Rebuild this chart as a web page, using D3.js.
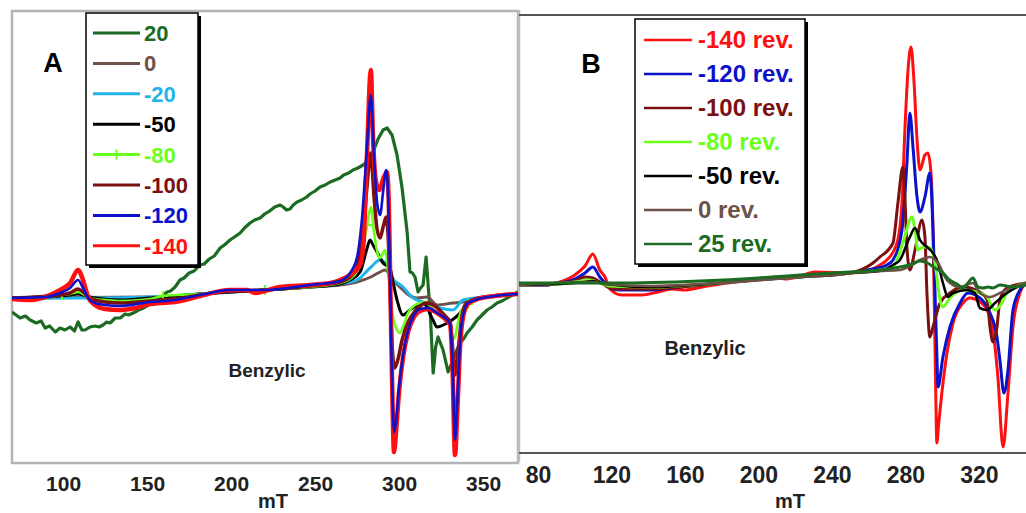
<!DOCTYPE html>
<html><head><meta charset="utf-8">
<script src="https://cdn.jsdelivr.net/npm/d3@7"></script>
<style>
body{margin:0;background:#fff;}
svg{display:block;font-family:"Liberation Sans",Arial,sans-serif;}
</style></head>
<body><svg id="c" width="1026" height="513"></svg>
<script>
// ---------- DATA (field in mT, intensity in arb. units) ----------
const ticksA = [100,150,200,250,300,350];
const ticksB = [80,120,160,200,240,280,320];
const labelsA = ["20","0","-20","-50","-80","-100","-120","-140"];
const labelsB = ["-140 rev.","-120 rev.","-100 rev.","-80 rev.","-50 rev.","0 rev.","25 rev."];

const A_p20 = [[69.6,-15],[72,-18],[74.4,-21],[77.6,-19],[80.4,-23],[84,-26],[87,-24],[89.3,-31],[92,-29],[95.4,-35],[98.2,-31],[101.2,-33],[104.2,-30],[106.8,-34],[108.9,-25],[111.2,-33],[113.1,-33],[116,-30],[119,-29],[121.5,-30],[123.8,-28],[126,-25],[128,-26],[131,-21],[134,-21],[137,-17],[139,-18],[141.7,-16],[145,-13],[148,-11],[151.8,-7],[155,-3],[158,-1],[161.9,5],[164,6],[166.7,10],[169.6,17],[172,19],[175,24],[178,26],[181.5,32],[184,33],[187,38],[190,41],[193.5,49],[196,52],[199.4,57],[202,60],[205.4,64],[208,69],[211.3,74],[214,77],[217.3,79],[220,83],[223,86],[226,90],[229.2,92],[231,90],[233,87],[235.1,88],[237,92],[239.3,95],[242,97],[245,100],[247,103],[250,106],[253,110],[256,112],[259,115],[262,117],[264.9,119],[267,122],[270,124],[272.6,127],[275.5,129],[278.6,132],[281.5,136],[284.5,145],[287.5,158],[290.5,167],[292.9,169],[295.8,162],[298.8,142],[301.8,109],[304.8,65],[306.5,25],[308,24],[309.5,20],[311.3,5],[312.8,9],[314.3,12],[316.1,40],[317.3,12],[318.7,-20],[320.3,-76],[321.8,-50],[323.2,-40],[326.2,-53],[329.2,-75],[332.1,-63],[334.2,-54],[336.3,-46],[338.4,-42],[340.5,-36],[343.5,-30],[346.4,-23],[349.4,-18],[352.4,-13],[355.3,-10],[358.3,-6],[361.3,-4],[364.3,-1],[367.5,2],[370.8,5]];
const A_0 = [[69.6,-1],[151.8,0],[181.5,3],[220.2,7],[247,10],[264.9,12],[276.8,16],[283.2,20],[288.7,25],[291.7,27],[294.6,22],[297.6,15],[302.4,7],[305,3],[310.7,-1],[316.7,0],[322.6,-8],[332.1,-6],[338.1,-5],[343,-3],[352,0],[370.8,3]];
const A_m20 = [[69.6,-1],[119,-1],[151.8,0],[181.5,3],[220.2,7],[247,10],[264.9,13],[275,17],[282.7,29],[288.7,37],[292.9,32],[295.5,20],[302.4,10],[308.3,-1],[316.7,-6],[324.4,-11],[332.1,-13],[338.1,-3],[345,-1],[357.1,1],[370.8,3]];
const A_m50 = [[69.6,-1],[98.2,1],[104.2,2],[108.9,3],[111.9,2],[119,-1],[134,-3],[151.8,-1],[181.5,3],[220.2,7],[247,10],[264.9,13],[270.8,17],[276.8,25],[281,49],[282.7,57],[284.5,52],[286.9,45],[290.5,34],[294.6,29],[296.4,15],[298.8,-3],[302.4,-18],[306.5,-13],[314.3,-6],[320.2,-23],[322.6,-30],[328.6,-26],[336.3,-16],[340.5,-6],[346,-2],[357.1,1],[370.8,3]];
const A_m80 = [[69.6,-1],[89.3,0],[99.4,2],[104.2,3],[108.9,5],[111.9,3],[114.9,0],[119,-2],[125,-3],[134,-4],[151.8,-2],[159.5,1],[181.5,3],[199.4,6],[220.2,7],[247,10],[264.9,14],[270.8,18],[275,26],[278,45],[281,72],[283.2,90],[285.1,65],[287.5,42],[288.7,39],[290.5,44],[291.7,47],[292.9,35],[294.6,5],[296.4,-20],[298.8,-33],[300.6,-36],[302.4,-30],[304.8,-18],[306.5,-13],[309.5,-8],[312.5,-6],[315.5,-5],[318.5,-8],[321.4,-14],[324.4,-15],[327.4,-18],[330.4,-30],[332.1,-42],[333.3,-40],[335.1,-25],[337.5,-12],[341.1,-7],[345.2,-3],[357.1,1],[370.8,3]];
const A_m80_marks = [99.4,159.5,220.2,281,341.1];
const A_m100 = [[69.6,-1],[98.2,2],[104.2,4],[108.9,8],[111.9,5],[114.9,0],[119,-3],[125,-5],[134,-6],[151.8,-4],[166.7,-2],[181.5,2],[199.4,6],[220.2,7],[247,11],[264.9,15],[270.8,20],[275,30],[278,55],[280.9,110],[283.2,144],[285.1,100],[286.9,68],[288.7,59],[290.5,70],[292.3,80],[293.5,60],[294.6,10],[295.8,-45],[297.3,-71],[299.4,-62],[301.8,-43],[305.4,-25],[309.5,-14],[312.5,-9],[316.1,-6],[321.4,-9],[327.4,-19],[330.4,-25],[332.1,-55],[333.3,-78],[335.1,-55],[336.9,-25],[339.3,-8],[345.2,-2],[357.1,1],[370.8,3]];
const A_m120 = [[69.6,-1],[89.3,0],[98.2,4],[104.2,9],[108.9,17],[111.9,9],[114.9,-1],[119,-6],[125,-8],[134,-9],[151.8,-5],[166.7,-3],[181.5,2],[199.4,7],[220.2,7],[247,12],[264.9,16],[270.8,24],[275,40],[278,80],[280.9,150],[283.2,202],[285.1,140],[286.9,95],[288.7,82],[290.5,105],[292.3,127],[293.5,100],[294.6,20],[295.8,-80],[297,-135],[298.2,-125],[300,-90],[302.4,-58],[305.4,-33],[308.9,-18],[312.5,-12],[317.3,-11],[322.6,-16],[327.4,-21],[330.4,-27],[331.8,-65],[333.3,-143],[334.8,-100],[336.3,-45],[338.1,-18],[341.1,-6],[347,-2],[357.1,1],[370.8,3]];
const A_m140 = [[69.6,-2],[80.4,-3],[89.3,0],[98.2,7],[104.2,14],[108.9,27],[111.9,17],[114.9,0],[119,-8],[125,-12],[134,-13],[142.9,-11],[151.8,-7],[157.7,-6],[166.7,-5],[181.5,1],[199.4,7],[209.5,7],[214.3,4],[220.2,6],[229.2,10],[247,12],[259,14],[264.9,17],[270.8,22],[276.8,32],[278.9,55],[280.9,142],[283.2,227],[284.5,159],[286.3,115],[288.3,107],[290.5,118],[292.7,125],[293.8,100],[294.6,30],[295.8,-80],[297,-155],[298.2,-135],[300,-95],[302.4,-60],[305.4,-35],[308.9,-20],[312.5,-14],[317.3,-12],[322.6,-16],[327.4,-22],[330.4,-28],[331.8,-70],[333.3,-158],[334.8,-110],[336.3,-50],[338.1,-20],[341.1,-7],[347,-2],[357.1,1],[370.8,3]];

const B_m140 = [[69.7,0],[83.8,0],[92,3],[100.1,10],[105.6,19],[109.9,31],[113.7,15],[116.5,8],[119.2,-4],[125.7,-10],[136.6,-10],[145.3,-7],[152.9,-4],[160,-5],[169.3,-2],[183.4,2],[198.1,6],[210.6,8],[214.4,6],[221.5,8],[230.7,13],[249.8,12],[260.7,15],[266.1,20],[269.9,25],[275.4,42],[278.1,82],[279.7,155],[281.4,215],[283,238],[284.6,205],[286.3,145],[287.9,115],[290.6,130],[292.2,132],[293.9,112],[295,55],[295.8,-30],[296.5,-110],[297.1,-158],[298,-140],[299.8,-108],[302.6,-68],[305.9,-38],[311.3,-18],[315.1,-13],[320.5,-17],[324.4,-25],[327.6,-45],[330.3,-92],[333.1,-162],[335.8,-108],[338.5,-42],[342.3,-8],[345.6,2]];
const B_m120 = [[69.7,0],[83.8,0],[92,2],[100.1,6],[105.6,12],[109.9,18],[113.7,8],[116.5,2],[119.2,-3],[124.6,-5],[141,-5],[157.3,-2],[179,2],[198.1,5],[222.6,8],[249.8,12],[262.3,16],[269.9,20],[273.2,25],[278.1,55],[280.8,122],[282.4,172],[284.1,138],[286.3,88],[287.9,73],[290.6,88],[293.3,112],[295,55],[296.1,-8],[297.1,-70],[297.7,-102],[300.4,-72],[304.2,-42],[309.7,-18],[314,-8],[320.5,-13],[326,-28],[329.8,-52],[331.4,-75],[333.6,-108],[335.8,-85],[338.5,-25],[342.3,-5],[345.6,2]];
const B_m100 = [[69.7,0],[92,2],[100.1,4],[105.6,8],[109.9,7],[113.7,3],[119.2,-3],[124.6,-4],[141,-4],[157.3,-2],[179,2],[198.1,5],[222.6,8],[249.8,12],[262.3,22],[266.1,28],[273.2,42],[275.9,82],[278.6,118],[279.7,88],[280.8,38],[282.4,15],[285.2,35],[289,65],[290.6,48],[291.7,-8],[293.3,-52],[295,-42],[298.8,-18],[304.2,-8],[311.3,-2],[320.5,-7],[324.4,-15],[326,-42],[327.6,-57],[329.8,-42],[331.4,-15],[335.2,-3],[345.6,2]];
const B_m80 = [[69.7,0],[92,1],[100.1,3],[108.3,5],[113.7,2],[119.2,-1],[141,-2],[179,2],[198.1,5],[222.6,8],[249.8,12],[262.3,14],[269.9,16],[273.2,18],[278.6,42],[283.5,68],[285.2,55],[286.8,35],[288.5,37],[290.6,38],[293.3,37],[296.1,22],[297.1,8],[298.8,-15],[300.4,-22],[304.2,-13],[311.3,-5],[318.9,-7],[324.4,-12],[328.7,-25],[332.5,-18],[335.2,-8],[345.6,2]];
const B_m50 = [[69.7,0],[92,1],[105.6,3],[109.9,4],[116.5,1],[141,-2],[179,2],[198.1,5],[222.6,8],[249.8,12],[266.1,14],[273.2,20],[277,25],[282.4,48],[285.2,57],[287.9,45],[291.7,38],[295,32],[297.7,22],[300.4,2],[303.1,-12],[305.9,-8],[313.5,-5],[317.8,-8],[320.5,-23],[324.4,-25],[328.7,-18],[335.2,-8],[345.6,2]];
const B_0 = [[69.7,0],[105.6,3],[109.9,3],[116.5,1],[141,-1],[179,2],[222.6,8],[249.8,12],[266.1,14],[277,15],[287.9,25],[293.3,28],[297.7,22],[302.6,5],[309.7,-2],[316.7,2],[320.5,-8],[326,-12],[331.4,-8],[338.5,-2],[345.6,2]];
const B_p25 = [[69.7,2],[120,2],[168.2,4],[200,7],[222.6,10],[249.8,13],[266.1,15],[277,18],[284,21],[287.9,24],[292,22],[296,17],[300.4,12],[304,5],[308,1],[311.3,-3],[314,2],[316.7,7],[319.5,-2],[322.2,-3],[324.9,-2],[327.6,-3],[331.4,0],[338.5,-2],[345.6,0]];

// ---------- DRAWING ----------
const svg = d3.select("#c");
const C = {g:"#1c6b22", br:"#6e5148", sky:"#1fb4ea", k:"#000000", lime:"#6cff1c", dr:"#7a1010", b:"#0c12cc", r:"#ff1010"};

function panel(opt){
  const x = d3.scaleLinear().domain(opt.xd).range(opt.xr);
  const y = d3.scaleLinear().domain(opt.yd).range(opt.yr);
  const g = svg.append("g");
  const cid = "clip"+opt.id;
  svg.append("defs").append("clipPath").attr("id",cid).append("rect")
    .attr("x",opt.xr[0]).attr("y",opt.yr[1]).attr("width",opt.xr[1]-opt.xr[0]).attr("height",opt.yr[0]-opt.yr[1]);
  const plot = g.append("g").attr("clip-path","url(#"+cid+")");
  opt.series.forEach(s=>{
    const line = d3.line().x(d=>x(d[0])).y(d=>y(d[1])).curve(s.curve||d3.curveMonotoneX);
    plot.append("path").datum(s.data).attr("d",line).attr("fill","none")
      .attr("stroke",s.color).attr("stroke-width",s.w).attr("stroke-linejoin","round");
    if(s.marks){
      s.marks.forEach(mx=>{
        const p = s.data.find(d=>d[0]===mx);
        const px=x(p[0]), py=y(p[1]);
        plot.append("path").attr("d",`M${px-5},${py}H${px+5}M${px},${py-5}V${py+5}`)
          .attr("stroke",s.color).attr("stroke-width",2);
      });
    }
  });
  const ax = g.append("g").attr("transform",`translate(0,${opt.axisY})`)
    .call(d3.axisBottom(x).tickValues(opt.ticks).tickSize(0).tickPadding(0).tickFormat(d3.format("d")));
  ax.select(".domain").remove();
  ax.selectAll("text").attr("font-size",opt.tfs).attr("font-weight","bold").attr("fill","#222")
    .attr("font-family","Liberation Sans, Arial, sans-serif").attr("dy",0);
  g.append("text").attr("x",opt.mt[0]).attr("y",opt.mt[1]).attr("text-anchor","middle")
    .attr("font-size",20).attr("font-weight","bold").attr("fill","#222").text("mT");
  g.append("text").attr("x",opt.letter[0]).attr("y",opt.letter[1]).attr("text-anchor","middle")
    .attr("font-size",27).attr("font-weight","bold").attr("fill","#000").text(opt.id);
  g.append("text").attr("x",opt.benz[0]).attr("y",opt.benz[1]).attr("text-anchor","middle")
    .attr("font-size",opt.bfs).attr("font-weight","bold").attr("fill","#222").text("Benzylic");
  return {x,y,g};
}

// Frames
svg.append("rect").attr("x",12).attr("y",11).attr("width",506).attr("height",452)
  .attr("fill","none").attr("stroke","#b4b4b4").attr("stroke-width",2.5);
svg.append("line").attr("x1",519).attr("x2",519).attr("y1",10).attr("y2",462).attr("stroke","#bdbdbd").attr("stroke-width",2.5);
svg.append("line").attr("x1",519).attr("x2",1026).attr("y1",15).attr("y2",15).attr("stroke","#555").attr("stroke-width",2);
svg.append("line").attr("x1",519).attr("x2",1026).attr("y1",453).attr("y2",453).attr("stroke","#555").attr("stroke-width",2);

panel({id:"A", xd:[69.6,370.8], xr:[12,518], yd:[-166,286], yr:[463,11], axisY:491, ticks:ticksA, tfs:21, bfs:19,
  mt:[273,508], letter:[53,72], benz:[267,377],
  series:[
    {data:A_p20,color:C.g,w:3.2,curve:d3.curveLinear},
    {data:A_0,color:C.br,w:3},
    {data:A_m20,color:C.sky,w:3},
    {data:A_m50,color:C.k,w:3},
    {data:A_m80,color:C.lime,w:2.6,marks:A_m80_marks},
    {data:A_m100,color:C.dr,w:3.5},
    {data:A_m140,color:C.r,w:4.5},
    {data:A_m120,color:C.b,w:2.6}
  ]});

panel({id:"B", xd:[69.7,345.6], xr:[519,1026], yd:[-168,270], yr:[453,15], axisY:483, ticks:ticksB, tfs:23, bfs:20,
  mt:[790,508], letter:[591,73], benz:[705,355],
  series:[
    {data:B_m140,color:C.r,w:3},
    {data:B_m120,color:C.b,w:3},
    {data:B_m100,color:C.dr,w:3},
    {data:B_m80,color:C.lime,w:3},
    {data:B_m50,color:C.k,w:2.6},
    {data:B_0,color:C.br,w:2.6},
    {data:B_p25,color:C.g,w:3}
  ]});

// Legends
function legend(x0,y0,w,h,labels,colors,rowY,rowH,lx1,lx2,tx,fs,lw,markIdx){
  const g = svg.append("g");
  g.append("rect").attr("x",x0+3).attr("y",y0+3).attr("width",w).attr("height",h).attr("fill","#000");
  g.append("rect").attr("x",x0).attr("y",y0).attr("width",w).attr("height",h).attr("fill","#fff")
    .attr("stroke","#000").attr("stroke-width",1.5);
  labels.forEach((l,i)=>{
    const yy = rowY + i*rowH;
    g.append("line").attr("x1",lx1).attr("x2",lx2).attr("y1",yy).attr("y2",yy)
      .attr("stroke",colors[i]).attr("stroke-width",lw);
    if(i===markIdx){
      const mx=(lx1+lx2)/2;
      g.append("line").attr("x1",mx).attr("x2",mx).attr("y1",yy-5).attr("y2",yy+5).attr("stroke",colors[i]).attr("stroke-width",2);
    }
    g.append("text").attr("x",tx).attr("y",yy+8).attr("font-size",fs).attr("font-weight","bold")
      .attr("fill",colors[i]).text(l);
  });
}
legend(86,13,112,252,labelsA,[C.g,C.br,C.sky,C.k,C.lime,C.dr,C.b,C.r],33,30.4,93,140,144,22,3,4);
legend(635,19,170,245,labelsB,[C.r,C.b,C.dr,C.lime,C.k,C.br,C.g],40,34,644,692,698,24,2.5,-1);
</script></body></html>
